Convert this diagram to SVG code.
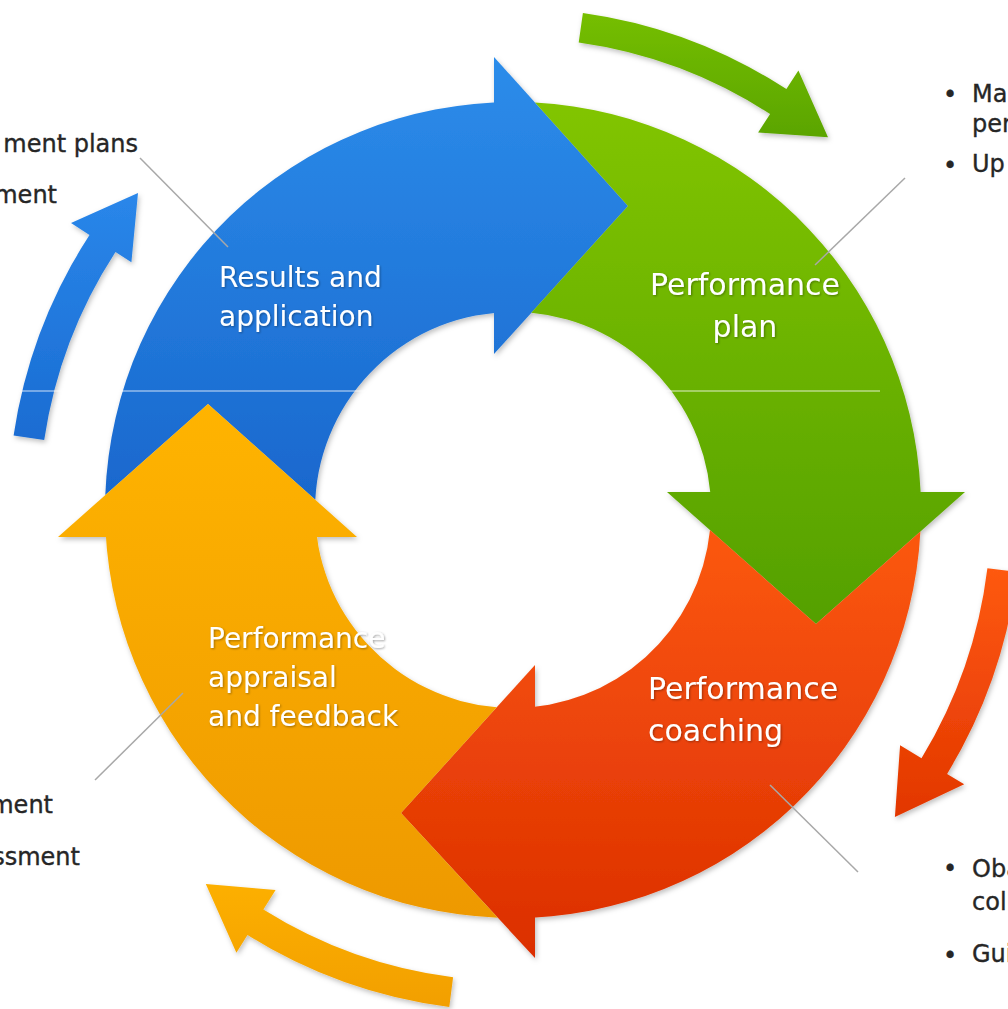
<svg xmlns="http://www.w3.org/2000/svg" width="1008" height="1009" viewBox="0 0 1008 1009">
<defs>
  <linearGradient id="gBlue" gradientUnits="userSpaceOnUse" x1="0" y1="60" x2="0" y2="520"><stop offset="0" stop-color="#2c8cea"/><stop offset="1" stop-color="#1866cc"/></linearGradient>
  <linearGradient id="gGreen" gradientUnits="userSpaceOnUse" x1="0" y1="100" x2="0" y2="625"><stop offset="0" stop-color="#82c500"/><stop offset="1" stop-color="#54a000"/></linearGradient>
  <linearGradient id="gRed" gradientUnits="userSpaceOnUse" x1="0" y1="490" x2="0" y2="960"><stop offset="0" stop-color="#ff5c12"/><stop offset="1" stop-color="#db2e00"/></linearGradient>
  <linearGradient id="gOrange" gradientUnits="userSpaceOnUse" x1="0" y1="400" x2="0" y2="920"><stop offset="0" stop-color="#ffb400"/><stop offset="1" stop-color="#ee9900"/></linearGradient>
  <linearGradient id="oGreen" gradientUnits="userSpaceOnUse" x1="0" y1="10" x2="0" y2="140"><stop offset="0" stop-color="#76bf00"/><stop offset="1" stop-color="#5aa400"/></linearGradient>
  <linearGradient id="oRed" gradientUnits="userSpaceOnUse" x1="0" y1="560" x2="0" y2="820"><stop offset="0" stop-color="#ff5a12"/><stop offset="1" stop-color="#e23600"/></linearGradient>
  <linearGradient id="oOrange" gradientUnits="userSpaceOnUse" x1="0" y1="880" x2="0" y2="1008"><stop offset="0" stop-color="#fdb000"/><stop offset="1" stop-color="#f29f00"/></linearGradient>
  <linearGradient id="oBlue" gradientUnits="userSpaceOnUse" x1="0" y1="190" x2="0" y2="440"><stop offset="0" stop-color="#2a87ea"/><stop offset="1" stop-color="#1a6cd2"/></linearGradient>
  <filter id="shadow" x="-10%" y="-10%" width="120%" height="120%">
    <feDropShadow dx="1.5" dy="2.5" stdDeviation="2.5" flood-color="#000" flood-opacity="0.25"/>
  </filter>
  <filter id="tshadow" x="-5%" y="-20%" width="110%" height="140%">
    <feDropShadow dx="1" dy="1" stdDeviation="1" flood-color="#000" flood-opacity="0.35"/>
  </filter>
</defs>
<style>
  .label { font-family: "DejaVu Sans", Verdana, sans-serif; fill: #ffffff; filter: url(#tshadow); }
  .l28 { font-size: 28px; }
  .l30 { font-size: 30px; }
  .side { font-family: "DejaVu Sans", Verdana, sans-serif; font-size: 24px; fill: #262626; stroke: #262626; stroke-width: 0.35; }
  .leader { stroke: #a8a8a8; stroke-width: 1.5; fill: none; }
</style>
<rect width="1008" height="1009" fill="#ffffff"/>

<g id="cycle-arrows" filter="url(#shadow)">
  <path id="outer-green" fill="url(#oGreen)" d="M582.9,12.9 A502,502 0 0 1 786.4,89.0 L798.4,70.5 L828,137.3 L758.1,132.6 L770.1,114.1 A472,472 0 0 0 578.7,42.6 Z"/>
  <path id="outer-red" fill="url(#oRed)" d="M1017.2,571.9 A508,508 0 0 1 947.1,773.9 L964.2,784.3 L894.9,817 L900.1,745.3 L921.5,758.3 A478,478 0 0 0 987.4,568.3 Z"/>
  <path id="outer-orange" fill="url(#oOrange)" d="M449.3,1006.9 A501,501 0 0 1 247.5,934.9 L236.4,952.7 L205.8,884 L275.6,889.9 L263.4,909.4 A471,471 0 0 0 453.1,977.2 Z"/>
  <path id="outer-blue" fill="url(#oBlue)" d="M13.6,435.4 A505,505 0 0 1 89.5,235 L71,223 L138,193.1 L131.4,262.2 L115.5,251.9 A474,474 0 0 0 44.2,439.9 Z"/>
</g>

<g id="ring" filter="url(#shadow)">
  <g id="node-results">
    <path fill="url(#gBlue)" d="M105.3,495.1 A408,408 0 0 1 513,102 L513,312 A198,198 0 0 0 315.3,499.7 L208,404 Z"/>
    <path fill="url(#gBlue)" d="M494,57 L628,206 L494,354 Z"/>
  </g>
  <g id="node-plan">
    <path fill="url(#gGreen)" d="M535,102.6 A408,408 0 0 1 921,510 L711,510 A198,198 0 0 0 531.3,312.8 L628,206 Z"/>
    <path fill="url(#gGreen)" d="M965,492 L816,624 L667,492 Z"/>
  </g>
  <g id="node-coaching">
    <path fill="url(#gRed)" d="M920.4,531.5 A408,408 0 0 1 513,918 L513,708 A198,198 0 0 0 710,530.1 L816,624 Z"/>
    <path fill="url(#gRed)" d="M535,958 L401,813 L535,665 Z"/>
  </g>
  <g id="node-appraisal">
    <path fill="url(#gOrange)" d="M497.8,917.7 A408,408 0 0 1 105,510 L315,510 A198,198 0 0 0 496.7,707.3 L401,813 Z"/>
    <path fill="url(#gOrange)" d="M58,537 L208,404 L357,537 Z"/>
  </g>
</g>

<line x1="15" y1="391" x2="880" y2="391" stroke="#ffffff" stroke-opacity="0.8" stroke-width="1"/>

<g id="labels">
  <text class="label l28" x="219" y="287">Results and</text>
  <text class="label l28" x="219" y="326">application</text>
  <text class="label l30" x="745" y="295" text-anchor="middle">Performance</text>
  <text class="label l30" x="745" y="337" text-anchor="middle">plan</text>
  <text class="label l30" x="648" y="699">Performance</text>
  <text class="label l30" x="648" y="741">coaching</text>
  <text class="label l28" x="208" y="648">Performance</text>
  <text class="label l28" x="208" y="687">appraisal</text>
  <text class="label l28" x="208" y="726">and feedback</text>
</g>

<g id="connectors">
  <line class="leader" x1="140" y1="158" x2="228" y2="247"/>
  <line class="leader" x1="905" y1="178" x2="815" y2="265"/>
  <line class="leader" x1="95" y1="780" x2="183" y2="693"/>
  <line class="leader" x1="770" y1="785" x2="858" y2="872"/>
</g>

<g id="text-top-left">
  <text class="side" x="138" y="152" text-anchor="end">ment plans</text>
  <text class="side" x="57" y="203" text-anchor="end">ment</text>
</g>
<g id="text-top-right">
  <text class="side" x="950" y="103" text-anchor="middle">•</text>
  <text class="side" x="972" y="102">Ma</text>
  <text class="side" x="972" y="132">per</text>
  <text class="side" x="950" y="174" text-anchor="middle">•</text>
  <text class="side" x="972" y="172">Up</text>
</g>
<g id="text-bottom-left">
  <text class="side" x="53" y="813" text-anchor="end">ment</text>
  <text class="side" x="80" y="865" text-anchor="end">ssment</text>
</g>
<g id="text-bottom-right">
  <text class="side" x="950" y="877" text-anchor="middle">•</text>
  <text class="side" x="972" y="877">Oba</text>
  <text class="side" x="972" y="910">coll</text>
  <text class="side" x="950" y="964" text-anchor="middle">•</text>
  <text class="side" x="972" y="962">Gui</text>
</g>
</svg>
